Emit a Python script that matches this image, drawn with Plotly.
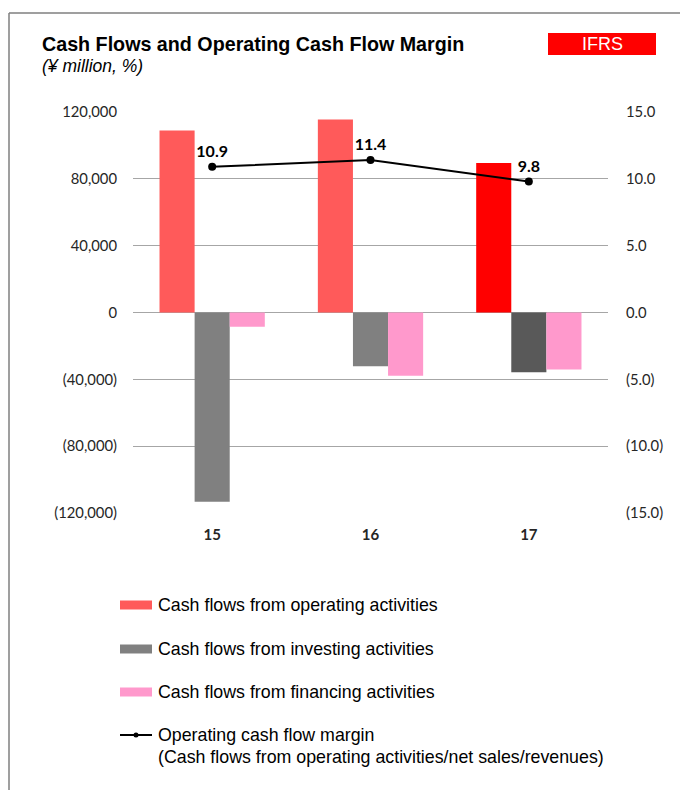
import plotly.graph_objects as go

# ---- data ----
years = ["15", "16", "17"]
operating_cf = [109000, 115500, 89500]
investing_cf = [-113300, -32100, -35700]
financing_cf = [-8600, -37900, -34100]
op_margin = [10.9, 11.4, 9.8]

left_ticks = [120000, 80000, 40000, 0, -40000, -80000, -120000]
left_tick_text = ["120,000", "80,000", "40,000", "0", "(40,000)", "(80,000)", "(120,000)"]
right_ticks = [15, 10, 5, 0, -5, -10, -15]
right_tick_text = ["15.0", "10.0", "5.0", "0.0", "(5.0)", "(10.0)", "(15.0)"]

legend_names = [
    "Cash flows from operating activities",
    "Cash flows from investing activities",
    "Cash flows from financing activities",
    "Operating cash flow margin<br>(Cash flows from operating activities/net sales/revenues)",
]

op_colors = ["#FF5A5A", "#FF5A5A", "#FF0000"]
inv_colors = ["#808080", "#808080", "#595959"]
fin_colors = ["#FF99CC", "#FF99CC", "#FF99CC"]

# page body has an 8px margin; window coords = figure coords + 8
OFF = 8
W, H = 688 - OFF, 790 - OFF
PL, PR, PT, PB = 133, 608, 112, 513  # plot area in window pixels
ML, MR, MT, MB = PL - OFF, W - (PR - OFF), PT - OFF, H - (PB - OFF)
PW, PH = PR - PL, PB - PT


def px(x):
    return (x - PL) / PW


def py(y):
    return (PB - y) / PH


TICK_COLOR = "#262626"

fig = go.Figure()
fig.add_trace(go.Bar(x=years, y=operating_cf, name=legend_names[0],
                     marker=dict(color=op_colors, line=dict(width=0)), showlegend=False))
fig.add_trace(go.Bar(x=years, y=investing_cf, name=legend_names[1],
                     marker=dict(color=inv_colors, line=dict(width=0)), showlegend=False))
fig.add_trace(go.Bar(x=years, y=financing_cf, name=legend_names[2],
                     marker=dict(color=fin_colors, line=dict(width=0)), showlegend=False))
fig.add_trace(go.Scatter(x=years, y=op_margin, name=legend_names[3], yaxis="y2",
                         mode="lines+markers+text",
                         line=dict(color="black", width=2),
                         marker=dict(color="black", size=8),
                         text=[f"{v:.1f}" for v in op_margin],
                         textposition="top center",
                         textfont=dict(family="Lato", size=16, color="#000000", weight="bold"),
                         showlegend=False, cliponaxis=False))

shapes = []
annotations = []
FONT = "Liberation Sans"
LEG_SIZE = 17.8

# frame
shapes.append(dict(type="line", xref="paper", yref="paper", x0=px(9), x1=px(9), y0=py(13), y1=py(820),
                   line=dict(color="#7F7F7F", width=1.5)))
shapes.append(dict(type="line", xref="paper", yref="paper", x0=px(9), x1=px(720), y0=py(13), y1=py(13),
                   line=dict(color="#7F7F7F", width=1.5)))

# title
annotations.append(dict(text="<b>Cash Flows and Operating Cash Flow Margin</b>", xref="paper", yref="paper",
                        x=px(40), y=py(44), xanchor="left", yanchor="middle", showarrow=False,
                        font=dict(family=FONT, size=19.7, color="#000000")))
annotations.append(dict(text="<i>(¥ million, %)</i>", xref="paper", yref="paper",
                        x=px(40), y=py(66), xanchor="left", yanchor="middle", showarrow=False,
                        font=dict(family=FONT, size=17.5, color="#000000")))
# IFRS badge
shapes.append(dict(type="rect", xref="paper", yref="paper", x0=px(548), x1=px(656), y0=py(33), y1=py(55),
                   fillcolor="#FF0000", line=dict(width=0)))
annotations.append(dict(text="IFRS", xref="paper", yref="paper", x=px(602), y=py(44),
                        xanchor="center", yanchor="middle", showarrow=False,
                        font=dict(family=FONT, size=18, color="#FFFFFF")))

# legend (drawn manually)
leg_rows = [605, 649, 692]
leg_cols = [op_colors[0], inv_colors[0], fin_colors[0]]
for i, (yy, c) in enumerate(zip(leg_rows, leg_cols)):
    shapes.append(dict(type="rect", xref="paper", yref="paper", x0=px(120), x1=px(152),
                       y0=py(yy - 4.5), y1=py(yy + 4.5), fillcolor=c, line=dict(width=0)))
    annotations.append(dict(text=legend_names[i], xref="paper", yref="paper", x=px(156), y=py(yy),
                            xanchor="left", yanchor="middle", showarrow=False,
                            font=dict(family=FONT, size=LEG_SIZE, color="#000000")))
shapes.append(dict(type="line", xref="paper", yref="paper", x0=px(120), x1=px(152), y0=py(735), y1=py(735),
                   line=dict(color="black", width=2)))
shapes.append(dict(type="circle", xref="paper", yref="paper", x0=px(133.5), x1=px(138.5), y0=py(732.5),
                   y1=py(737.5), fillcolor="black", line=dict(width=0)))
annotations.append(dict(text="Operating cash flow margin", xref="paper", yref="paper", x=px(156), y=py(735),
                        xanchor="left", yanchor="middle", showarrow=False,
                        font=dict(family=FONT, size=LEG_SIZE, color="#000000")))
annotations.append(dict(text="(Cash flows from operating activities/net sales/revenues)", xref="paper",
                        yref="paper", x=px(156), y=py(757), xanchor="left", yanchor="middle", showarrow=False,
                        font=dict(family=FONT, size=LEG_SIZE, color="#000000")))

fig.update_layout(
    width=W, height=H,
    margin=dict(l=ML, r=MR, t=MT, b=MB, autoexpand=False),
    paper_bgcolor="white", plot_bgcolor="white",
    barmode="group", bargap=0.335, bargroupgap=0,
    showlegend=False,
    shapes=shapes, annotations=annotations,
    xaxis=dict(type="category", showgrid=False, showline=False, ticks="",
               tickfont=dict(family="Lato", size=15, color=TICK_COLOR, weight="bold"),
               ticklabelstandoff=11),
    yaxis=dict(range=[-120000, 120000], tickvals=left_ticks, ticktext=left_tick_text,
               showgrid=True, gridcolor="#A6A6A6", gridwidth=1,
               zeroline=True, zerolinecolor="#A6A6A6", zerolinewidth=1,
               showline=False, ticks="", ticklabelstandoff=15,
               tickfont=dict(family="Lato", size=14.8, color=TICK_COLOR)),
    yaxis2=dict(range=[-15, 15], tickvals=right_ticks, ticktext=right_tick_text,
                overlaying="y", side="right", showgrid=False, zeroline=False, showline=False,
                ticks="", ticklabelstandoff=17,
                tickfont=dict(family="Lato", size=14.8, color=TICK_COLOR)),
)

fig.write_html("out.html")
